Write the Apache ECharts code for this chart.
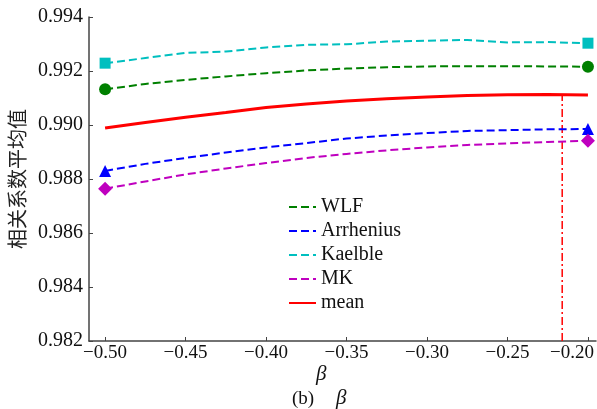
<!DOCTYPE html>
<html>
<head>
<meta charset="utf-8">
<script src="https://cdn.jsdelivr.net/npm/echarts@6/dist/echarts.min.js"></script>
<style>
html, body { margin: 0; padding: 0; background: #fff; }
#main { width: 597px; height: 409px; }
</style>
</head>
<body>
<div id="main"></div>
<script>
const betas = [-0.5, -0.475, -0.45, -0.425, -0.4, -0.375, -0.35, -0.325, -0.3, -0.275, -0.25, -0.225, -0.2];
const wlf = [0.99132, 0.99152, 0.99167, 0.99180, 0.99192, 0.99202, 0.99209, 0.99214, 0.99217, 0.99218, 0.99218, 0.99217, 0.99216];
const arrhenius = [0.98830, 0.98856, 0.98878, 0.98898, 0.98917, 0.98933, 0.98950, 0.98961, 0.98970, 0.98978, 0.98981, 0.98984, 0.98985];
const kaelble = [0.99229, 0.99248, 0.99267, 0.99272, 0.99287, 0.99297, 0.99299, 0.99309, 0.99312, 0.99315, 0.99306, 0.99307, 0.99303];
const mk = [0.98764, 0.98791, 0.98817, 0.98839, 0.98859, 0.98878, 0.98893, 0.98906, 0.98917, 0.98926, 0.98932, 0.98937, 0.98942];
const meanVals = [0.98989, 0.99009, 0.99029, 0.99046, 0.99065, 0.99078, 0.99089, 0.99097, 0.99104, 0.99109, 0.99112, 0.99113, 0.99111];
const xTicks = [-0.5, -0.45, -0.4, -0.35, -0.3, -0.25, -0.2];
const cutBeta = -0.216;

const serif = 'Liberation Serif';

// only the two end points carry a marker
function withEnds(vals, sym, size) {
    return vals.map((v, i) => {
        if (i === 0 || i === vals.length - 1) {
            return { value: [betas[i], v], symbol: sym, symbolSize: size };
        }
        return { value: [betas[i], v] };
    });
}

function dashed(name, color, vals, sym, size) {
    return {
        name: name,
        type: 'line',
        symbol: 'none',
        data: withEnds(vals, sym, size),
        lineStyle: { color: color, width: 2, type: [8, 4] },
        itemStyle: { color: color },
        z: 3
    };
}

let myChart = echarts.init(document.getElementById('main'));
let option = {
    animation: false,
    grid: { left: 89, top: 17, right: 1, bottom: 68, containLabel: false, outerBoundsMode: 'none' },
    legend: {
        orient: 'vertical',
        left: 283,
        top: 192,
        itemWidth: 27,
        itemHeight: 14,
        itemGap: 4,
        data: ['WLF', 'Arrhenius', 'Kaelble', 'MK', 'mean'],
        itemStyle: { opacity: 0 },
        textStyle: { fontFamily: serif, fontSize: 20, color: '#111' }
    },
    xAxis: {
        type: 'value',
        min: -0.51,
        max: -0.195,
        axisLine: { lineStyle: { color: '#444', width: 1.5 } },
        axisTick: { inside: true, length: 4, customValues: xTicks, lineStyle: { color: '#444' } },
        axisLabel: {
            customValues: xTicks,
            fontFamily: serif,
            fontSize: 19,
            color: '#111',
            margin: 3,
            formatter: (v) => {
                const s = v.toFixed(2).replace('-', '\u2212');
                // last label is pulled left so it stays inside the picture
                return v > -0.21 ? '{last|' + s + '}' : s;
            },
            rich: {
                last: { fontFamily: serif, fontSize: 19, color: '#111', padding: [0, 32, 0, 0] }
            }
        },
        splitLine: { show: false }
    },
    yAxis: {
        type: 'value',
        min: 0.982,
        max: 0.994,
        interval: 0.002,
        name: '相关系数平均值',
        nameLocation: 'middle',
        nameGap: 60,
        nameTextStyle: { fontFamily: 'Noto Sans CJK SC', fontSize: 20, color: '#222' },
        axisLine: { show: true, lineStyle: { color: '#444', width: 1.5 } },
        axisTick: { show: true, inside: true, length: 4, lineStyle: { color: '#444' } },
        axisLabel: {
            fontFamily: serif,
            fontSize: 20,
            color: '#111',
            margin: 6,
            formatter: (v) => v.toFixed(3)
        },
        splitLine: { show: false }
    },
    graphic: [
        { type: 'text', left: 316, top: 364, style: { text: 'β', font: 'italic 21px "Liberation Serif"', fill: '#111' } },
        { type: 'text', left: 292, top: 390, style: { text: '(b)', font: '19px "Liberation Serif"', fill: '#111' } },
        { type: 'text', left: 336, top: 388, style: { text: 'β', font: 'italic 21px "Liberation Serif"', fill: '#111' } }
    ],
    series: [
        dashed('WLF', '#008000', wlf, 'circle', 12),
        dashed('Arrhenius', '#0000ff', arrhenius, 'triangle', 12),
        dashed('Kaelble', '#00bfbf', kaelble, 'rect', 11),
        dashed('MK', '#bf00bf', mk, 'diamond', 14),
        {
            name: 'mean',
            type: 'line',
            symbol: 'none',
            data: betas.map((b, i) => [b, meanVals[i]]),
            lineStyle: { color: '#ff0000', width: 3 },
            itemStyle: { color: '#ff0000' },
            z: 4
        },
        {
            name: 'cut',
            type: 'line',
            symbol: 'none',
            silent: true,
            data: [[cutBeta, 0.982], [cutBeta, 0.99111]],
            lineStyle: { color: '#ff0000', width: 1.5, type: [8, 3, 2, 3] },
            z: 2
        }
    ]
};
myChart.setOption(option);
window.addEventListener('resize', myChart.resize);
</script>
</body>
</html>
